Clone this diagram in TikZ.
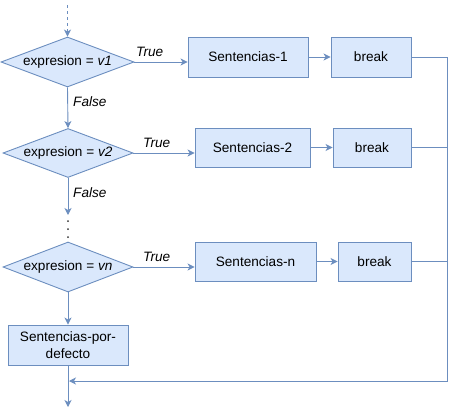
\documentclass[tikz,border=0pt]{standalone}
\usepackage{fontspec}
\setmainfont{Liberation Sans}
\usetikzlibrary{shapes.geometric,arrows.meta}
\definecolor{boxfill}{HTML}{DAE8FC}
\definecolor{boxline}{HTML}{6C8EBF}
\tikzset{
  cond/.style={diamond, draw=boxline, fill=boxfill, line width=0.9pt, inner sep=0pt, aspect=2.64, font=\fontsize{13.6}{15}\selectfont},
  stmt/.style={rectangle, draw=boxline, fill=boxfill, line width=0.9pt, inner sep=2pt, align=center, font=\fontsize{13.6}{16.5}\selectfont},
  flow/.style={draw=boxline, line width=0.9pt, -{Stealth[length=7pt,width=7pt,inset=2pt]}},
  wire/.style={draw=boxline, line width=0.9pt},
  lbl/.style={font=\fontsize{13.6}{15}\selectfont\itshape, inner sep=0pt},
  dot/.style={circle, fill=black!80, inner sep=0pt, minimum size=2pt}
}
\begin{document}
\begin{tikzpicture}[x=1pt,y=-1pt]
\useasboundingbox (0,0) rectangle (456,415);

% decisions
\node[cond, minimum width=133pt, minimum height=50pt] (d1) at (67.5,62) {expresion = \textit{v1}};
\node[cond, minimum width=130pt, minimum height=49pt] (d2) at (68,153) {expresion = \textit{v2}};
\node[cond, minimum width=130pt, minimum height=50pt] (d3) at (68,267) {expresion = \textit{vn}};

% statement blocks
\node[stmt, minimum width=120pt, minimum height=40pt] (s1) at (248,57) {Sentencias-1};
\node[stmt, minimum width=80pt, minimum height=40pt] (b1) at (371,57) {break};
\node[stmt, minimum width=115pt, minimum height=39pt] (s2) at (252.5,147.5) {Sentencias-2};
\node[stmt, minimum width=78pt, minimum height=39pt] (b2) at (372,147.5) {break};
\node[stmt, minimum width=121pt, minimum height=39pt] (sn) at (255.5,261.5) {Sentencias-n};
\node[stmt, minimum width=73pt, minimum height=39pt] (bn) at (374.5,261.5) {break};
\node[stmt, minimum width=120pt, minimum height=40pt] (def) at (68,345) {Sentencias-por-\\defecto};

% helper points
\coordinate (entry) at (67.5,5);
\coordinate (gap) at (68,215);
\coordinate (exit) at (68,407);
\coordinate (rtop) at (447,57);
\coordinate (rbot) at (447,381);
\coordinate (join) at (69,381);

% ellipsis between conditions
\node[dot] (e1) at (68,221) {};
\node[dot] (e2) at (68,229) {};
\node[dot] (e3) at (68,237) {};

% vertical flow
\draw[flow, dash pattern=on 3pt off 3pt] (entry) -- (d1.north);
\draw[flow] (d1.south) -- (d2.north);
\draw[flow] (d2.south) -- (gap);
\draw[flow] (d3.south) -- (def.north);
\draw[flow] (def.south) -- (exit);

% true branches
\draw[flow] (d1.east) -- (d1.east -| s1.west);
\draw[flow] (d2.east) -- (d2.east -| s2.west);
\draw[flow] (d3.east) -- (d3.east -| sn.west);
\draw[flow] (s1) -- (b1);
\draw[flow] (s2) -- (b2);
\draw[flow] (sn) -- (bn);

% breaks return to the exit
\draw[wire] (b1.east) -- (rtop);
\draw[wire] (b2.east) -- (b2.east -| rtop);
\draw[wire] (bn.east) -- (bn.east -| rtop);
\draw[flow] (rtop) -- (rbot) -- (join);

% branch labels
\node[lbl, anchor=west] (t1) at (136,52) {True};
\node[lbl, anchor=west] (t2) at (143,143) {True};
\node[lbl, anchor=west] (t3) at (143,257) {True};
\node[lbl, anchor=west] (f1) at (73,102) {False};
\node[lbl, anchor=west] (f2) at (73,193) {False};
\end{tikzpicture}
\end{document}
